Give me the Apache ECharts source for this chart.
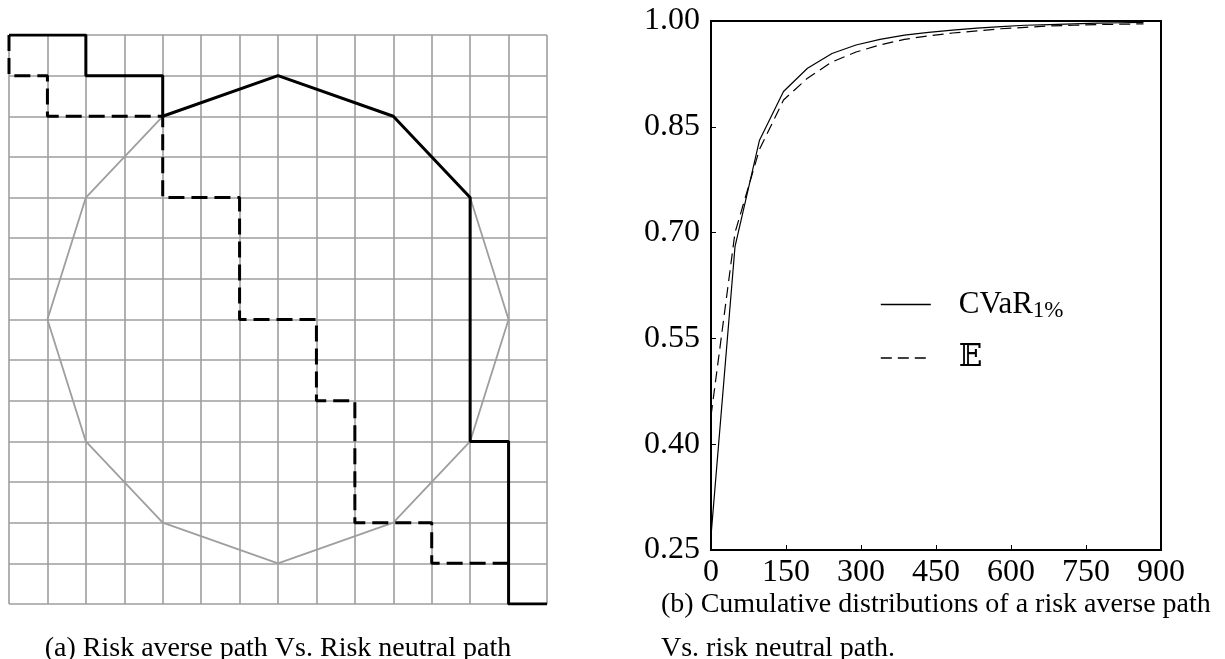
<!DOCTYPE html>
<html>
<head>
<meta charset="utf-8">
<script src="https://cdn.jsdelivr.net/npm/echarts@6/dist/echarts.min.js"></script>
<style>
  html, body { margin: 0; padding: 0; background: #fff; }
  #chart { width: 1225px; height: 659px; }
</style>
</head>
<body>
<div id="chart"></div>
<script>
// (a) grid paths, in grid cells (x: 0..14 left to right, y: 0..14 bottom to top)
const obstaclePolygon = [
  [7, 13], [10, 12], [12, 10], [13, 7], [12, 4], [10, 2], [7, 1],
  [4, 2], [2, 4], [1, 7], [2, 10], [4, 12], [7, 13]
]
const riskAversePath = [
  [0, 14], [2, 14], [2, 13], [4, 13], [4, 12], [7, 13], [10, 12],
  [12, 10], [12, 4], [13, 4], [13, 0], [14, 0]
]
const riskNeutralPath = [
  [0, 14], [0, 13], [1, 13], [1, 12], [4, 12], [4, 10], [6, 10], [6, 7],
  [8, 7], [8, 5], [9, 5], [9, 2], [11, 2], [11, 1], [13, 1]
]

// (b) cumulative distributions
const cdfX = [0, 48, 97, 145, 193, 242, 290, 338, 387, 435, 483, 532, 580, 628, 677, 725, 773, 820, 865]
const cvarCdf = [0.27, 0.68, 0.831, 0.900, 0.933, 0.954, 0.966, 0.974, 0.980, 0.984, 0.987, 0.990, 0.992, 0.994, 0.995, 0.996, 0.997, 0.9975, 0.998]
const meanCdf = [0.44, 0.70, 0.818, 0.888, 0.919, 0.942, 0.956, 0.966, 0.974, 0.979, 0.983, 0.986, 0.989, 0.991, 0.993, 0.994, 0.995, 0.9955, 0.996]
const yTicks = [0.25, 0.40, 0.55, 0.70, 0.85, 1.00]

const serif = '"Liberation Serif", "DejaVu Serif", serif'
const gridGray = '#9e9e9e'

const chart = echarts.init(document.getElementById('chart'))

const cellAxis = {
  type: 'value',
  min: 0,
  max: 14,
  interval: 1,
  axisLine: { show: false },
  axisTick: { show: false },
  axisLabel: { show: false },
  splitLine: { show: true, lineStyle: { color: gridGray, width: 1.6 } }
}

const option = {
  animation: false,
  backgroundColor: '#fff',
  title: [
    {
      text: '(a) Risk averse path Vs. Risk neutral path',
      left: 278,
      top: 635,
      textAlign: 'center',
      padding: 0,
      textStyle: { fontFamily: serif, fontSize: 28, fontWeight: 'normal', color: '#000' }
    },
    {
      text: '(b) Cumulative distributions of a risk averse path\nVs. risk neutral path.',
      left: 661,
      top: 583,
      padding: 0,
      textStyle: { fontFamily: serif, fontSize: 28, fontWeight: 'normal', color: '#000', lineHeight: 44 }
    }
  ],
  grid: [
    { left: 9, top: 35, width: 538, height: 569 },
    { left: 711, top: 21, width: 450, height: 529, show: true, borderColor: '#000', borderWidth: 2 }
  ],
  xAxis: [
    { ...cellAxis, gridIndex: 0 },
    {
      gridIndex: 1,
      type: 'value',
      min: 0,
      max: 900,
      interval: 150,
      axisLine: { show: true, lineStyle: { color: '#000', width: 2 } },
      axisTick: { show: true, inside: true, length: 5, lineStyle: { color: '#000', width: 1 } },
      axisLabel: { fontFamily: serif, fontSize: 32, color: '#000', margin: 7 },
      splitLine: { show: false }
    }
  ],
  yAxis: [
    { ...cellAxis, gridIndex: 0 },
    {
      gridIndex: 1,
      type: 'value',
      min: 0.25,
      max: 1.0,
      axisLine: { show: true, lineStyle: { color: '#000', width: 2 } },
      axisTick: { show: true, inside: true, length: 5, customValues: yTicks, lineStyle: { color: '#000', width: 1 } },
      axisLabel: {
        customValues: yTicks,
        fontFamily: serif,
        fontSize: 32,
        color: '#000',
        margin: 11,
        formatter: v => v.toFixed(2)
      },
      splitLine: { show: false }
    }
  ],
  legend: {
    data: ['CVaR', '𝔼'],
    orient: 'vertical',
    left: 875,
    top: 284,
    itemWidth: 50,
    itemHeight: 36,
    itemGap: 20,
    itemStyle: { opacity: 0 },
    lineStyle: { width: 1.6 },
    selectedMode: false,
    formatter: name => name === 'CVaR' ? '{m|CVaR}{s|1%}' : '{m|𝔼}',
    textStyle: {
      padding: [0, 0, 0, 23],
      rich: {
        m: { fontFamily: serif + ', "DejaVu Sans"', fontSize: 31, lineHeight: 36, color: '#000' },
        s: { fontFamily: serif, fontSize: 23, lineHeight: 22, verticalAlign: 'bottom', color: '#000' }
      }
    }
  },
  series: [
    {
      name: 'obstacle',
      type: 'line',
      xAxisIndex: 0,
      yAxisIndex: 0,
      data: obstaclePolygon,
      symbol: 'none',
      lineStyle: { color: gridGray, width: 1.8 },
      z: 2
    },
    {
      name: 'neutral',
      type: 'line',
      xAxisIndex: 0,
      yAxisIndex: 0,
      data: riskNeutralPath,
      symbol: 'none',
      lineStyle: { color: '#000', width: 3, type: [16, 7] },
      z: 3
    },
    {
      name: 'averse',
      type: 'line',
      xAxisIndex: 0,
      yAxisIndex: 0,
      data: riskAversePath,
      symbol: 'none',
      lineStyle: { color: '#000', width: 3 },
      z: 4
    },
    {
      name: 'CVaR',
      type: 'line',
      xAxisIndex: 1,
      yAxisIndex: 1,
      data: cdfX.map((x, i) => [x, cvarCdf[i]]),
      symbol: 'none',
      itemStyle: { color: '#000' },
      lineStyle: { color: '#000', width: 1.2 }
    },
    {
      name: '𝔼',
      type: 'line',
      xAxisIndex: 1,
      yAxisIndex: 1,
      data: cdfX.map((x, i) => [x, meanCdf[i]]),
      symbol: 'none',
      itemStyle: { color: '#000' },
      lineStyle: { color: '#000', width: 1.2, type: [11, 6] }
    }
  ]
}

chart.setOption(option)
</script>
</body>
</html>
